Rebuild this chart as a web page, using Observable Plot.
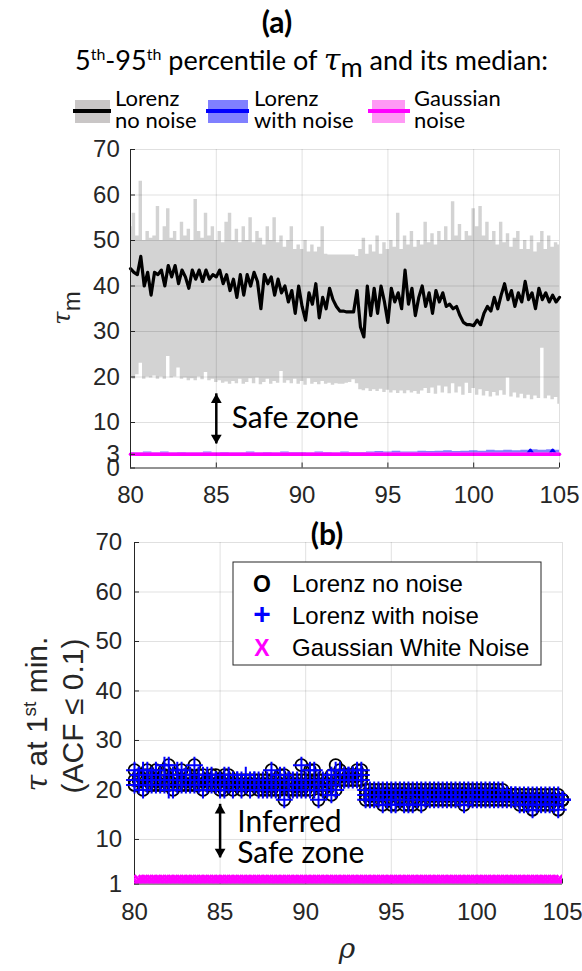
<!DOCTYPE html>
<html><head><meta charset="utf-8">
<script src="https://cdn.jsdelivr.net/npm/d3@7"></script>
<script src="https://cdn.jsdelivr.net/npm/@observablehq/plot@0.6"></script>
<style>
body{margin:0;background:#fff;}
#fig{position:relative;width:582px;height:971px;overflow:hidden;background:#fff;}
#fig svg{position:absolute;left:0;}
</style></head><body><div id="fig"></div>
<script>
// ================= DATA =================
// Panel (a): rho grid 80..105 step 0.2 (126 samples)
const rhoA = d3.range(126).map(i => 80 + 0.2 * i);
const lorenzMedian = [43.8,43.0,42.5,46.5,40.0,43.0,38.0,43.0,42.5,43.5,
 40.0,44.5,42.0,44.5,40.5,43.5,42.0,39.5,43.5,41.5,
 43.5,41.0,43.5,41.5,42.5,42.0,43.5,40.5,42.5,39.0,
 41.5,37.5,42.5,38.0,42.5,40.0,43.0,41.0,35.0,42.5,
 40.5,42.0,38.0,41.5,38.5,40.0,36.5,39.0,34.0,40.0,
 35.5,32.5,38.5,36.0,40.5,33.0,37.5,35.0,39.5,37.0,
 35.5,34.5,34.5,34.3,34.3,34.3,39.0,31.0,28.8,40.0,
 33.5,39.5,34.0,40.0,36.5,32.0,39.5,36.5,38.5,35.0,
 43.5,36.0,39.5,33.5,37.5,40.0,35.5,38.5,34.0,39.0,
 36.5,38.5,35.5,36.0,35.0,35.5,33.5,32.0,31.5,31.5,
 31.3,32.5,31.5,34.0,35.5,34.5,37.5,35.0,38.0,40.5,
 37.0,39.0,35.5,38.5,36.5,41.0,37.0,38.5,35.0,39.5,
 37.0,38.5,36.5,38.0,36.5,37.5];
const lorenzP95 = [53,56,51,63,50,52,50.5,51,57.5,50,
 53,57,50.5,52,50,54,51,52.5,50,59,
 52,50.5,56,51,53,50,52,49.5,54,56,
 50,52.5,49.5,53,50,55,49.5,52,50.5,49,
 53,50,55,49.5,51,48.5,50,53,48,49,
 48,50,47.5,49,47.5,48.5,53,47,46.8,46.8,
 46.8,46.8,46.8,46.8,46.8,46.8,46.5,48,50.5,47,
 49,47.5,51,47,49.5,48,50,48.5,56,48,
 51,49,52,48.5,50,49,54,49.5,51.5,49,
 52,50,53,50,58.5,51,53.5,50,52,51,
 57,53,57.5,51,54,50,52,49,54,49.5,
 51.5,48.5,50.5,52,48,50,48,51,47.5,49.5,
 52,48,51,48.5,49.5,49];
const lorenzP5 = [20,19.5,20.5,23,19.5,20,19.8,20.2,19.5,20,
 19.5,24.5,19.8,20,22,19.5,19.8,19.2,19.6,19.2,
 20,19.4,21,19.2,19.5,18.8,19.2,18.6,18.9,18.4,
 19,18.5,19.5,18.4,18.8,19.6,18.5,19.8,18.3,18.8,
 19.5,18.4,19,18.6,21.2,18.6,19.2,18.5,19.5,18.4,
 19,18.2,19.6,18.4,18.8,18.3,19,18.4,18.6,18.2,
 18.5,18.4,18.4,18.6,18.8,19.4,18.5,17.2,17,17.4,
 16.8,17.2,16.8,17.3,16.6,17.1,16.5,17,16.4,16.9,
 16.3,17,16.5,16.8,16.2,16.9,17.5,16.4,17.6,16.2,
 18,16.5,17.8,16.3,18.5,16.5,17.8,16,18.6,16.4,
 17.5,16,17.2,15.8,16.8,15.6,16.6,15.8,17,16,
 19.8,15.6,16.5,15.4,16.2,15.2,16,15,15.8,15.3,
 26.3,15.2,15.8,15,15.5,14];
// Lorenz with noise (blue), rho grid step 0.5
const rhoNoise = d3.range(51).map(i => 80 + 0.5 * i);
const noiseP95 = [3.4,3.3,3.5,3.3,3.5,3.3,3.4,3.3,3.3,3.5,
 3.3,3.4,3.3,3.3,3.5,3.3,3.4,3.3,3.5,3.4,
 3.4,3.3,3.5,3.4,3.3,3.5,3.4,3.4,3.5,3.6,
 3.5,3.7,3.5,3.5,3.7,3.6,3.7,3.8,3.6,3.7,
 3.8,3.7,3.9,3.8,3.9,3.8,3.9,4.0,3.9,4.0,3.9];
const noiseP5 = [3,3,3,3,3,3,3,3,3,3, 3,3,3,3,3,3,3,3,3,3, 3,3,3,3,3,3,3,3,3,3,
 3,3,3,3,3,3,3,3,3,3, 3,3,3,3,3,3,3,3,3,3,3];
const noiseMedRho = [80,103.1,103.3,103.5,104.4,104.6,104.8,105];
const noiseMed = [3,3,4,3,3,4,3,3];
// Gaussian noise (magenta)
const gaussRho = [80,105];
const gaussMed = [3,3];
const gaussP5 = [2.7,2.7];
const gaussP95 = [3.3,3.3];

const xTicks = [80,85,90,95,100,105];
const yTicksA = [0,3,10,20,30,40,50,60,70];
const yTicksB = [1,10,20,30,40,50,60,70];

// annotations (data coordinates)
const arrowA = [{rho:85, from:5.3, to:16.3}];
const labelA = [{rho:85.9, tau:10.9, text:"Safe zone"}];
const arrowB = [{rho:85, from:6.3, to:17.1}];
const labelB = [{rho:86.0, tau:13.5, text:"Inferred"},{rho:86.0, tau:7.1, text:"Safe zone"}];

// Panel (b): rho grid 80..105 step 0.25 (101 samples), tau at 1st min (lags)
const rhoB = d3.range(101).map(i => 80 + 0.25 * i);
const noNoiseHi = [24,23,23,24,23,24,23,24,25,23,23,24,23,23,25,23,23,22,23,23,22,
 23,23,22,22,22,22,22,22,22,22,22,24,22,23,23,22,22,22,25,22,24,24,22,22,22,23,25,
 24,23,23,23,24,24,
 20,20,20,20,20,20,20,20,20,20,20,20,20,20,20,20,20,20,20,20,20,20,20,20,20,20,20,20,20,20,20,20,20,
 19,19,19,19,19,19,19,19,19,19,19,19,19,
 18];
const noNoiseLo = [21,22,20,21,21,21,21,21,21,20,21,21,21,21,21,21,20,21,21,21,20,
 20,21,20,21,20,21,20,21,20,20,20,20,20,20,18,20,20,20,20,20,20,21,18,20,20,19,20,
 22,22,22,22,22,22,
 18,18,18,18,17,18,17,17,18,17,17,17,18,17,18,18,18,18,18,18,18,18,18,17,18,18,18,18,18,18,18,18,18,18,18,18,
 17,17,17,16,17,17,17,17,17,16,18];
const noNoiseMid = [22,22,22,23,22,22,22,23,22,22,22,22,23,22,22,22,22,22,22,22,21,
 22,22,21,21,21,21,21,21,21,21,21,22,21,22,21,21,21,21,22,21,22,22,21,21,21,21,22,
 23,23,23,23,23,23,
 19,19,19,19,19,19,19,19,19,19,19,19,19,19,19,19,19,19,19,19,19,19,19,19,19,19,19,19,19,19,19,19,19,19,19,19,
 18,18,18,18,18,18,18,18,18,18,18];
const withNoiseHi = [24,23,24,24,23,24,23,25,25,23,24,24,23,23,25,23,23,23,23,22,22,
 23,23,22,22,22,23,22,22,22,22,22,24,22,23,23,22,22,22,25,22,24,24,22,22,22,23,24,
 24,23,23,23,24,24,
 20,20,20,20,20,20,20,20,20,20,20,20,20,20,20,20,20,20,20,20,20,20,20,20,20,20,20,20,20,20,20,20,20,
 19,19,19,19,19,19,19,19,19,19,19,19,19,
 18];
const withNoiseLo = [21,21,20,21,21,21,21,21,20,20,21,21,21,21,21,21,20,21,21,21,20,
 20,21,20,21,20,21,20,21,20,20,20,20,20,20,18,20,20,20,20,20,20,20,18,20,20,19,20,
 22,22,22,22,22,22,
 18,18,18,18,17,18,17,17,18,17,17,17,18,17,18,18,18,18,18,18,18,18,18,17,18,18,18,18,18,18,18,18,18,18,18,18,
 17,17,17,16,17,17,17,17,17,16,18];
const withNoiseMid = [22,23,22,22,22,23,22,22,22,22,23,22,22,22,22,23,22,22,22,22,21,
 21,22,21,22,21,21,21,22,21,21,21,22,21,21,21,22,21,21,22,21,22,21,21,21,21,21,22,
 23,22,23,23,23,23,
 19,19,19,19,19,19,19,19,19,19,19,19,19,19,19,19,19,19,19,19,19,19,19,19,19,19,19,19,19,19,19,19,19,19,19,19,
 18,18,18,18,18,18,18,18,18,18,18];
const gaussianWN = [1,1,1,1,1,1,1,1,1,1, 1,1,1,1,1,1,1,1,1,1, 1,1,1,1,1,1,1,1,1,1,
 1,1,1,1,1,1,1,1,1,1, 1,1,1,1,1,1,1,1,1,1, 1,1,1,1,1,1,1,1,1,1,
 1,1,1,1,1,1,1,1,1,1, 1,1,1,1,1,1,1,1,1,1, 1,1,1,1,1,1,1,1,1,1,
 1,1,1,1,1,1,1,1,1,1, 1];

// ================= BUILD =================
const tableA = rhoA.map((r, i) => ({rho: r, lo: lorenzP5[i], hi: lorenzP95[i], med: lorenzMedian[i]}));
const noiseBand = rhoNoise.map((r, i) => ({rho: r, lo: noiseP5[i], hi: noiseP95[i]}));
const noiseLine = noiseMedRho.map((r, i) => ({rho: r, v: noiseMed[i]}));
const gaussTab = gaussRho.map((r, i) => ({rho: r, med: gaussMed[i], lo: gaussP5[i], hi: gaussP95[i]}));
const toRows = arrs => arrs.flatMap(a => a.map((v, i) => ({rho: rhoB[i], tau: v})));
const rowsNoNoise = toRows([noNoiseHi, noNoiseMid, noNoiseLo]);
const rowsWithNoise = toRows([withNoiseHi, withNoiseMid, withNoiseLo]);
const rowsGauss = toRows([gaussianWN]);

const AX = "#262626";
const GRID = {stroke: "#000", strokeOpacity: 0.12};
const tickFont = {fontFamily: "'Liberation Sans', Arial, sans-serif", fontSize: "24px", color: AX, overflow: "visible", background: "transparent"};
const annFont = {fontFamily: "Lato, sans-serif", fontSize: 30, fill: "black", textAnchor: "start"};

function arrowMarks(arr) {
  return [
    Plot.ruleX(arr, {x: "rho", y1: "from", y2: "to", stroke: "black", strokeWidth: 2.5}),
    Plot.dot(arr, {x: "rho", y: "to", symbol: "triangle", r: 4, fill: "black", dy: 6}),
    Plot.dot(arr, {x: "rho", y: "from", symbol: "triangle", r: 4, fill: "black", dy: -6, rotate: 180})
  ];
}

const plotA = Plot.plot({
  width: 582, height: 370,
  marginTop: 9, marginRight: 23, marginBottom: 42.5, marginLeft: 130,
  x: {domain: [80, 105]},
  y: {domain: [0, 70]},
  style: tickFont,
  marks: [
    Plot.areaY(tableA, {x: "rho", y1: "lo", y2: "hi", fill: "#d3d3d3", curve: "step"}),
    Plot.lineY(tableA, {x: "rho", y: "med", stroke: "black", strokeWidth: 3.2, strokeLinejoin: "round"}),
    Plot.areaY(noiseBand, {x: "rho", y1: "lo", y2: "hi", fill: "#8080ff", curve: "step"}),
    Plot.lineY(noiseLine, {x: "rho", y: "v", stroke: "#0000ff", strokeWidth: 2.5}),
    Plot.areaY(gaussTab, {x: "rho", y1: "lo", y2: "hi", fill: "#ff99ff"}),
    Plot.lineY(gaussTab, {x: "rho", y: "med", stroke: "#ff00ff", strokeWidth: 3.5}),
    Plot.gridX({ticks: xTicks.slice(1), ...GRID}),
    Plot.gridY({ticks: yTicksA.slice(2), ...GRID}),
    Plot.ruleX([80], {stroke: AX}),
    Plot.ruleY([0], {stroke: AX}),
    Plot.axisX({ticks: xTicks, tickSize: -5, tickPadding: 22.5, label: null, stroke: AX}),
    Plot.axisY({ticks: yTicksA, tickSize: -5, tickPadding: 15.7, label: null, stroke: AX}),
    ...arrowMarks(arrowA),
    Plot.text(labelA, {x: "rho", y: "tau", text: "text", ...annFont})
  ]
});

const plotB = Plot.plot({
  width: 582, height: 430,
  marginTop: 42, marginRight: 20, marginBottom: 46.5, marginLeft: 134,
  x: {domain: [80, 105]},
  y: {domain: [1, 70]},
  style: tickFont,
  marks: [
    Plot.gridX({ticks: xTicks.slice(1), ...GRID}),
    Plot.gridY({ticks: yTicksB.slice(1), ...GRID}),
    Plot.ruleX([80], {stroke: AX}),
    Plot.ruleY([1], {stroke: AX}),
    Plot.axisX({ticks: xTicks, tickSize: -5, tickPadding: 23.5, label: null, stroke: AX}),
    Plot.axisY({ticks: yTicksB, tickSize: -5, tickPadding: 17.3, label: null, stroke: AX}),
    Plot.dot(rowsNoNoise, {x: "rho", y: "tau", r: 6, stroke: "black", strokeWidth: 1.8, fill: "none"}),
    Plot.dot(rowsWithNoise, {x: "rho", y: "tau", symbol: "plus", r: 5.5, stroke: "#0000ff", strokeWidth: 2}),
    Plot.dot(rowsGauss, {x: "rho", y: "tau", symbol: "times", r: 8, stroke: "#ff00ff", strokeWidth: 3, clip: true}),
    ...arrowMarks(arrowB),
    Plot.text(labelB, {x: "rho", y: "tau", text: "text", ...annFont})
  ]
});

const fig = d3.select("#fig");
fig.append(() => plotA).style("top", "140px");
fig.append(() => plotB).style("top", "500px");

// ================= OVERLAY TEXT / LEGENDS =================
const ov = fig.append("svg").attr("width", 582).attr("height", 971).style("top", "0px");
const LATO = "Lato, sans-serif", ARIAL = "'Liberation Sans', Arial, sans-serif";

ov.append("text").attr("x", 277).attr("y", 33).attr("text-anchor", "middle")
  .attr("font-family", LATO).attr("font-weight", "bold").attr("font-size", 30).text("(a)");

const sub = ov.append("text").attr("x", 75).attr("y", 70).attr("font-family", LATO).attr("font-size", 27);
sub.append("tspan").text("5");
sub.append("tspan").attr("font-size", 16).attr("dy", -10).text("th");
sub.append("tspan").attr("dy", 10).text("-95");
sub.append("tspan").attr("font-size", 16).attr("dy", -10).text("th");
sub.append("tspan").attr("dy", 10).text(" percentile of ");
sub.append("tspan").attr("font-family", "'DejaVu Serif', serif").attr("font-style", "italic").attr("font-size", 30).text("τ");
sub.append("tspan").attr("dy", 7).text("m");
sub.append("tspan").attr("dy", -7).text(" and its median:");

const legA = [
  {x0: 75, x1: 110, l0: 73, l1: 111, fill: "#c9c6c6", line: "#000", tx: 115, t1: "Lorenz", t2: "no noise"},
  {x0: 208, x1: 248, l0: 206, l1: 249, fill: "#8080ff", line: "#0000ff", tx: 254, t1: "Lorenz", t2: "with noise"},
  {x0: 372, x1: 405, l0: 368, l1: 410, fill: "#ff99f5", line: "#ff00ff", tx: 414, t1: "Gaussian", t2: "noise"}
];
legA.forEach(d => {
  ov.append("rect").attr("x", d.x0).attr("y", 100).attr("width", d.x1 - d.x0).attr("height", 23).attr("fill", d.fill);
  ov.append("line").attr("x1", d.l0).attr("x2", d.l1).attr("y1", 111).attr("y2", 111).attr("stroke", d.line).attr("stroke-width", 4);
  ov.append("text").attr("x", d.tx).attr("y", 106).attr("font-family", LATO).attr("font-size", 22).text(d.t1);
  ov.append("text").attr("x", d.tx).attr("y", 128).attr("font-family", LATO).attr("font-size", 22).text(d.t2);
});

// y label (a)
const yla = ov.append("text").attr("transform", "translate(70,308) rotate(-90)").attr("text-anchor", "middle")
  .attr("font-family", ARIAL).attr("font-size", 24).attr("fill", AX);
yla.append("tspan").attr("font-family", "'DejaVu Serif', serif").attr("font-style", "italic").text("τ");
yla.append("tspan").attr("dy", 10).text("m");

// panel (b) title
ov.append("text").attr("x", 327).attr("y", 545).attr("text-anchor", "middle")
  .attr("font-family", LATO).attr("font-weight", "bold").attr("font-size", 30).text("(b)");

// legend (b)
ov.append("rect").attr("x", 233).attr("y", 562).attr("width", 308).attr("height", 103)
  .attr("fill", "white").attr("stroke", AX).attr("stroke-width", 1);
const legB = [
  {sym: "O", col: "#000", y: 592, t: "Lorenz no noise"},
  {sym: "+", col: "#0000ff", y: 624, t: "Lorenz with noise"},
  {sym: "X", col: "#ff00ff", y: 656, t: "Gaussian White Noise"}
];
legB.forEach(d => {
  ov.append("text").attr("x", 262).attr("y", d.y).attr("text-anchor", "middle").attr("font-family", ARIAL)
    .attr("font-weight", "bold").attr("font-size", d.sym === "+" ? 30 : 23).attr("fill", d.col).text(d.sym);
  ov.append("text").attr("x", 292).attr("y", d.y).attr("font-family", ARIAL).attr("font-size", 24).attr("fill", "#000").text(d.t);
});

// y label (b)
const ylb1 = ov.append("text").attr("transform", "translate(47,714) rotate(-90)").attr("text-anchor", "middle")
  .attr("font-family", ARIAL).attr("font-size", 30).attr("fill", AX);
ylb1.append("tspan").attr("font-family", "'DejaVu Serif', serif").attr("font-style", "italic").text("τ");
ylb1.append("tspan").text(" at 1");
ylb1.append("tspan").attr("font-size", 19).attr("dy", -11).text("st");
ylb1.append("tspan").attr("dy", 11).text(" min.");
ov.append("text").attr("transform", "translate(83,716) rotate(-90)").attr("text-anchor", "middle")
  .attr("font-family", ARIAL).attr("font-size", 30).attr("fill", AX).text("(ACF ≤ 0.1)");

// x label (b)
ov.append("text").attr("x", 347).attr("y", 958).attr("text-anchor", "middle")
  .attr("font-family", "'DejaVu Serif', serif").attr("font-style", "italic").attr("font-size", 28).attr("fill", AX).text("ρ");
</script></body></html>
